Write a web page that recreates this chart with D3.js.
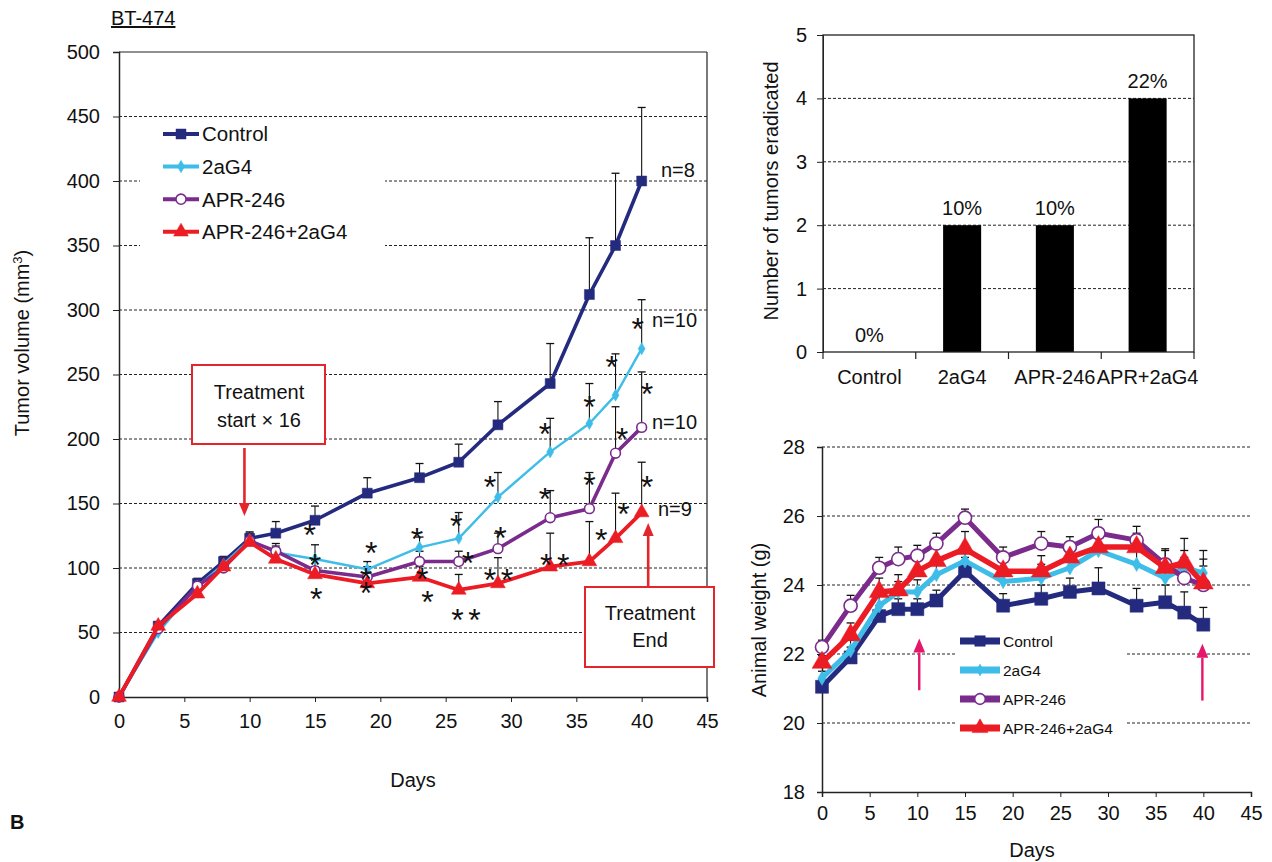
<!DOCTYPE html>
<html lang="en">
<head>
<meta charset="UTF-8">
<title>BT-474: tumor volume, tumors eradicated, animal weight</title>
<script src="https://d3js.org/d3.v7.min.js"></script>
<style>
    body {
        margin: 0;
        background: #fff;
        font-family: "Liberation Sans", Arial, sans-serif;
    }
    svg text { fill: #111; }
    .grid line { stroke: #222; stroke-width: 1; stroke-dasharray: 3,2; }
    .domain, .tick line { stroke: #222; }
</style>
</head>
<body>
<svg id="fig" width="1272" height="862"></svg>
<script>
// ---- data ----
const groups = ["Control", "2aG4", "APR-246", "APR-246+2aG4"];
const days = [0, 3, 6, 8, 10, 12, 15, 19, 23, 26, 29, 33, 36, 38, 40];

// tumor volume (mm3), mean and upper error
const volControl = [0, 55, 88, 105, 123, 127, 137, 158, 170, 182, 211, 243, 312, 350, 400];
const vol2aG4    = [0, 50, 86, 103, 122, 112, 107, 99, 116, 123, 155, 190, 212, 234, 270];
const volAPR     = [0, 53, 86, 100, 121, 113, 98, 93, 105, 105, 115, 139, 146, 189, 209];
const volCombo   = [0, 55, 80, 101, 120, 107, 95, 88, 93, 83, 88, 101, 105, 123, 143];
const errControl = [0, 3, 4, 4, 5, 9, 11, 12, 11, 14, 18, 31, 44, 56, 57];
const err2aG4    = [0, 3, 4, 4, 5, 5, 11, 6, 8, 20, 19, 26, 31, 32, 38];
const errAPR     = [0, 3, 4, 4, 5, 6, 8, 8, 8, 8, 12, 21, 28, 36, 43];
const errCombo   = [0, 3, 4, 4, 5, 6, 6, 7, 8, 12, 20, 26, 31, 35, 39];

const nLabels = ["n=8", "n=10", "n=10", "n=9"];
const nValues = [400, 308, 209, 145];

// significance stars on the volume chart: day, value
const starDays   = [14.6, 15.0, 15.1, 19.3, 18.9, 18.9, 22.8, 23.2, 23.6, 25.8, 26.7, 25.9, 27.2,
                    28.4, 29.2, 28.4, 29.7, 32.6, 32.6, 32.7, 34.0, 36.0, 36.0, 36.9, 37.7, 38.5,
                    38.6, 39.7, 40.4, 40.4];
const starValues = [131, 108, 81, 117, 97, 86, 128, 97, 79, 138, 109, 65, 65,
                    168, 129, 96, 96, 209, 159, 108, 108, 230, 170, 127, 261, 205,
                    147, 291, 240, 168];

// tumors eradicated
const barCats = ["Control", "2aG4", "APR-246", "APR+2aG4"];
const barValues = [0, 2, 2, 4];
const barPct = ["0%", "10%", "10%", "22%"];

// animal weight (g)
const wtControl = [21.05, 21.9, 23.1, 23.3, 23.3, 23.55, 24.4, 23.4, 23.6, 23.8, 23.9, 23.4, 23.5, 23.2, 22.85];
const wt2aG4    = [21.3, 22.1, 23.4, 23.8, 23.8, 24.3, 24.7, 24.1, 24.2, 24.5, 25.0, 24.6, 24.2, 24.5, 24.35];
const wtAPR     = [22.2, 23.4, 24.5, 24.75, 24.85, 25.2, 25.95, 24.8, 25.2, 25.1, 25.5, 25.3, 24.6, 24.2, 24.0];
const wtCombo   = [21.75, 22.55, 23.8, 23.85, 24.4, 24.7, 25.05, 24.4, 24.4, 24.8, 25.1, 25.1, 24.5, 24.65, 24.05];
const wtErrControl = [0.2, 0.3, 0.3, 0.3, 0.3, 0.3, 0.4, 0.35, 0.4, 0.4, 0.6, 0.5, 0.5, 0.6, 0.5];
const wtErr2aG4    = [0.2, 0.3, 0.3, 0.3, 0.35, 0.3, 0.4, 0.3, 0.4, 0.35, 0.5, 0.5, 0.45, 0.5, 0.4];
const wtErrAPR     = [0.2, 0.3, 0.3, 0.35, 0.3, 0.3, 0.25, 0.3, 0.35, 0.3, 0.4, 0.4, 0.45, 0.6, 1.0];
const wtErrCombo   = [0.2, 0.35, 0.4, 0.45, 0.45, 0.4, 0.5, 0.4, 0.45, 0.4, 0.4, 0.4, 0.5, 0.7, 0.5];

const COLORS = ["#242b7e", "#3dbde8", "#7a2b8c", "#ec1c24"];
const SYMBOLS = [d3.symbolSquare, d3.symbolDiamond, d3.symbolCircle, d3.symbolTriangle];

const svg = d3.select("#fig");

function drawGrid(g, scale, values, x1, x2) {
    g.append("g").attr("class", "grid")
        .selectAll("line").data(values).join("line")
        .attr("x1", x1).attr("x2", x2)
        .attr("y1", d => scale(d)).attr("y2", d => scale(d));
}

function drawSeries(g, x, y, vals, errs, opt) {
    // error bars (up only)
    const eb = g.append("g");
    vals.forEach((series, s) => {
        series.forEach((v, i) => {
            const e = errs[s][i];
            if (!e) return;
            const cx = x(days[i]);
            eb.append("line").attr("x1", cx).attr("x2", cx)
                .attr("y1", y(v)).attr("y2", y(v + e))
                .attr("stroke", "#111").attr("stroke-width", 1.1);
            eb.append("line").attr("x1", cx - 4).attr("x2", cx + 4)
                .attr("y1", y(v + e)).attr("y2", y(v + e))
                .attr("stroke", "#111").attr("stroke-width", 1.3);
        });
    });
    vals.forEach((series, s) => {
        const line = d3.line().x((d, i) => x(days[i])).y(d => y(d));
        g.append("path").datum(series)
            .attr("fill", "none").attr("stroke", COLORS[s])
            .attr("stroke-width", opt.widths[s]).attr("stroke-linejoin", "round")
            .attr("d", line);
        g.append("g").selectAll("path").data(series).join("path")
            .attr("transform", (d, i) => `translate(${x(days[i])},${y(d)})`)
            .attr("d", d3.symbol(SYMBOLS[s], opt.sizes[s]))
            .attr("fill", s === 2 ? "#fff" : COLORS[s])
            .attr("stroke", COLORS[s])
            .attr("stroke-width", s === 2 ? 1.6 : 0.5);
    });
}

function legend(g, x0, y0, dy, lineLen, fs, lw, sizes) {
    groups.forEach((name, s) => {
        const yy = y0 + s * dy;
        g.append("line").attr("x1", x0).attr("x2", x0 + lineLen)
            .attr("y1", yy).attr("y2", yy)
            .attr("stroke", COLORS[s]).attr("stroke-width", lw);
        g.append("path")
            .attr("transform", `translate(${x0 + lineLen / 2},${yy})`)
            .attr("d", d3.symbol(SYMBOLS[s], sizes[s]))
            .attr("fill", s === 2 ? "#fff" : COLORS[s])
            .attr("stroke", COLORS[s]).attr("stroke-width", s === 2 ? 1.6 : 0.5);
        g.append("text").attr("x", x0 + lineLen + 3).attr("y", yy + fs * 0.36)
            .style("font-size", fs + "px").text(name);
    });
}

function arrow(g, x1, y1, x2, y2, color, w, head) {
    const ang = Math.atan2(y2 - y1, x2 - x1);
    const bx = x2 - Math.cos(ang) * head, by = y2 - Math.sin(ang) * head;
    g.append("line").attr("x1", x1).attr("y1", y1).attr("x2", bx).attr("y2", by)
        .attr("stroke", color).attr("stroke-width", w);
    const px = -Math.sin(ang) * head * 0.42, py = Math.cos(ang) * head * 0.42;
    g.append("path")
        .attr("d", `M${x2},${y2}L${bx + px},${by + py}L${bx - px},${by - py}Z`)
        .attr("fill", color);
}

// ================= Tumor volume chart =================
(function () {
    const g = svg.append("g");
    const x = d3.scaleLinear().domain([0, 45]).range([119, 707]);
    const y = d3.scaleLinear().domain([0, 500]).range([697, 52]);

    drawGrid(g, y, d3.range(50, 500, 50), 119, 707);

    // legend background and entries
    g.append("rect").attr("x", 140).attr("y", 121).attr("width", 245).attr("height", 142).attr("fill", "#fff");
    legend(g, 163, 134, 32.6, 36, 20.5, 4, [100, 45, 80, 95]);

    // frame
    g.append("line").attr("x1", 119).attr("x2", 707).attr("y1", 52).attr("y2", 52).attr("stroke", "#222").attr("stroke-width", 1.2);
    g.append("line").attr("x1", 707).attr("x2", 707).attr("y1", 52).attr("y2", 697).attr("stroke", "#222").attr("stroke-width", 1.2);

    const ax = g.append("g").attr("transform", "translate(0,697)")
        .call(d3.axisBottom(x).tickValues(d3.range(0, 46, 5)).tickSize(5).tickPadding(12));
    const ay = g.append("g").attr("transform", "translate(119,0)")
        .call(d3.axisLeft(y).tickValues(d3.range(0, 501, 50)).tickSize(6).tickPadding(13));
    [ax, ay].forEach(a => {
        a.selectAll("text").style("font-size", "20px").style("font-family", "Liberation Sans, Arial, sans-serif");
        a.select(".domain").attr("stroke-width", 1.5);
    });

    drawSeries(g, x, y, [volControl, vol2aG4, volAPR, volCombo],
        [errControl, err2aG4, errAPR, errCombo],
        { widths: [3.6, 2.4, 3.6, 3.8], sizes: [100, 42, 75, 95] });

    // significance stars: stars stacked close together share one text element
    const fs = 32;
    const pts = starDays.map((d, i) => ({ x: x(d), y: y(starValues[i]) }));
    const parent = pts.map((p, i) => i);
    const find = i => parent[i] === i ? i : (parent[i] = find(parent[i]));
    pts.forEach((p, i) => pts.forEach((q, j) => {
        if (j > i && Math.abs(p.x - q.x) < 14 && Math.abs(p.y - q.y) < 38) parent[find(j)] = find(i);
    }));
    const clusters = d3.groups(pts.map((p, i) => ({ ...p, c: find(i) })), d => d.c).map(c => c[1]);
    const starG = g.append("g");
    clusters.forEach(members => {
        const t = starG.append("text").attr("text-anchor", "middle").style("font-size", fs + "px");
        members.forEach(m => {
            t.append("tspan").attr("x", m.x).attr("y", m.y + fs * 0.56).text("*");
        });
    });

    // n labels
    const nDx = [661, 652, 652, 658];
    const nDy = [-4, 27, 2, 6];
    g.append("g").selectAll("text").data(nLabels).join("text")
        .attr("x", (d, i) => nDx[i])
        .attr("y", (d, i) => y(nValues[i]) + nDy[i])
        .style("font-size", "20px")
        .text(d => d);

    // treatment annotations
    const red = "#e3262b";
    g.append("rect").attr("x", 192).attr("y", 365).attr("width", 133).attr("height", 79)
        .attr("fill", "#fff").attr("stroke", red).attr("stroke-width", 2);
    g.append("text").attr("x", 259).attr("y", 399).attr("text-anchor", "middle").style("font-size", "20px").text("Treatment");
    g.append("text").attr("x", 259).attr("y", 427).attr("text-anchor", "middle").style("font-size", "20px").text("start × 16");
    arrow(g, x(9.6), 448, x(9.6), 516, red, 2.6, 13);

    g.append("rect").attr("x", 585).attr("y", 587).attr("width", 129).attr("height", 80)
        .attr("fill", "#fff").attr("stroke", red).attr("stroke-width", 2);
    g.append("text").attr("x", 650).attr("y", 620).attr("text-anchor", "middle").style("font-size", "20px").text("Treatment");
    g.append("text").attr("x", 650).attr("y", 647).attr("text-anchor", "middle").style("font-size", "20px").text("End");
    arrow(g, x(40.5), 587, x(40.5), 523, red, 2.6, 13);

    // titles
    g.append("text").attr("x", 111).attr("y", 25).style("font-size", "20px")
        .style("text-decoration", "underline").text("BT-474");
    g.append("text").attr("transform", "translate(29,343) rotate(-90)")
        .attr("text-anchor", "middle").style("font-size", "20px")
        .html('Tumor volume (mm<tspan dy="-7" style="font-size:13px">3</tspan><tspan dy="7">)</tspan>');
    g.append("text").attr("x", 413).attr("y", 787).attr("text-anchor", "middle")
        .style("font-size", "20px").text("Days");
    g.append("text").attr("x", 10).attr("y", 829).style("font-size", "20px")
        .style("font-weight", "bold").text("B");
})();

// ================= Tumors eradicated bar chart =================
(function () {
    const g = svg.append("g");
    const x = d3.scaleBand().domain(barCats).range([823, 1194]).paddingInner(0.59).paddingOuter(0.295);
    const y = d3.scaleLinear().domain([0, 5]).range([352, 35]);
    const step = x.step();

    drawGrid(g, y, [1, 2, 3, 4], 823, 1194);

    g.append("g").selectAll("rect").data(barValues).join("rect")
        .attr("x", (d, i) => x(barCats[i]))
        .attr("y", d => y(d))
        .attr("width", x.bandwidth())
        .attr("height", d => y(0) - y(d))
        .attr("fill", "#000");

    g.append("g").selectAll("text").data(barPct).join("text")
        .attr("x", (d, i) => x(barCats[i]) + x.bandwidth() / 2)
        .attr("y", (d, i) => y(barValues[i]) - 10)
        .attr("text-anchor", "middle")
        .style("font-size", "20px")
        .text(d => d);

    // frame
    g.append("rect").attr("x", 823).attr("y", 35).attr("width", 371).attr("height", 317)
        .attr("fill", "none").attr("stroke", "#222").attr("stroke-width", 1.3);

    const ay = g.append("g").attr("transform", "translate(823,0)")
        .call(d3.axisLeft(y).tickValues([0, 1, 2, 3, 4, 5]).tickFormat(d3.format("d")).tickSize(6).tickPadding(10));
    ay.selectAll("text").style("font-size", "20px").style("font-family", "Liberation Sans, Arial, sans-serif");

    // category separators below axis
    g.append("g").selectAll("line").data(d3.range(barCats.length + 1)).join("line")
        .attr("x1", d => 823 + d * step).attr("x2", d => 823 + d * step)
        .attr("y1", 352).attr("y2", 359)
        .attr("stroke", "#222").attr("stroke-width", 1.2);

    g.append("g").selectAll("text").data(barCats).join("text")
        .attr("x", d => x(d) + x.bandwidth() / 2)
        .attr("y", 384)
        .attr("text-anchor", "middle")
        .style("font-size", "20px")
        .text(d => d);

    g.append("text").attr("transform", "translate(778,191) rotate(-90)")
        .attr("text-anchor", "middle").style("font-size", "20px")
        .text("Number of tumors eradicated");
})();

// ================= Animal weight chart =================
(function () {
    const g = svg.append("g");
    const x = d3.scaleLinear().domain([0, 45]).range([822, 1251]);
    const y = d3.scaleLinear().domain([18, 28]).range([792, 447]);

    drawGrid(g, y, [20, 22, 24, 26, 28], 822, 1251);

    g.append("rect").attr("x", 955).attr("y", 626).attr("width", 172).attr("height", 118).attr("fill", "#fff");

    const ax = g.append("g").attr("transform", "translate(0,792)")
        .call(d3.axisBottom(x).tickValues(d3.range(0, 46, 5)).tickSize(5).tickPadding(9));
    const ay = g.append("g").attr("transform", "translate(822,0)")
        .call(d3.axisLeft(y).tickValues([18, 20, 22, 24, 26, 28]).tickSize(5).tickPadding(12));
    [ax, ay].forEach(a => {
        a.selectAll("text").style("font-size", "20px").style("font-family", "Liberation Sans, Arial, sans-serif");
        a.select(".domain").attr("stroke-width", 1.5);
    });

    const pink = "#e5176b";
    arrow(g, x(10.2), y(20.95), x(10.2), y(22.45), pink, 2.4, 14);
    arrow(g, x(39.9), y(20.65), x(39.9), y(22.3), pink, 2.4, 14);

    drawSeries(g, x, y, [wtControl, wt2aG4, wtAPR, wtCombo],
        [wtErrControl, wtErr2aG4, wtErrAPR, wtErrCombo],
        { widths: [5, 5, 5, 5.5], sizes: [170, 60, 135, 170] });

    legend(g, 960, 641, 29, 40, 15.5, 7, [110, 40, 90, 110]);

    g.append("text").attr("transform", "translate(766,620) rotate(-90)")
        .attr("text-anchor", "middle").style("font-size", "20px")
        .text("Animal weight (g)");
    g.append("text").attr("x", 1032).attr("y", 857).attr("text-anchor", "middle")
        .style("font-size", "20px").text("Days");
})();
</script>
</body>
</html>
